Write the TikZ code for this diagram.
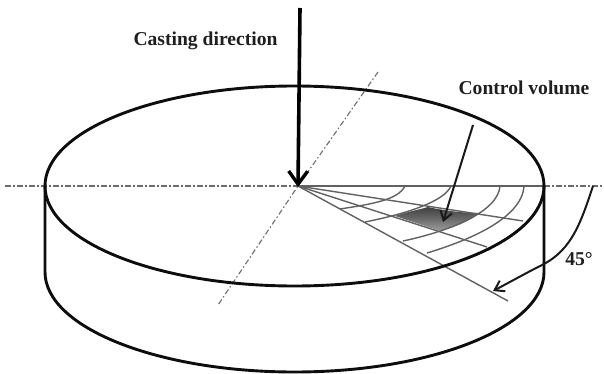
\documentclass[tikz,border=0pt]{standalone}
\usepackage{fontspec}
\setmainfont{Liberation Serif}
\usetikzlibrary{arrows.meta}
\tikzset{
  rim/.style={line width=2.9pt,black!95},
  axis/.style={line width=1.1pt,black!58,dash pattern=on 5.5pt off 2.5pt on 1.5pt off 2.5pt},
  grid/.style={line width=1.4pt,black!62},
  pointer/.style={line width=2pt,black!90,-{Straight Barb[length=9pt,width=12pt,line width=2pt]}},
  label/.style={font=\bfseries\fontsize{19.6}{22}\selectfont,black!88,inner sep=0pt},
}
\begin{document}
\begin{tikzpicture}[x=1pt,y=-1pt]
\useasboundingbox (0,0) rectangle (604,374);
\coordinate (c) at (298,186);
\coordinate (ec) at (294.5,186);
\coordinate (casttop) at (300,8);
\coordinate (cvstart) at (473,125);
\coordinate (cvtip) at (443,222);
\coordinate (angA) at (593,186);
\coordinate (angB) at (493,291);
% shaded cell
\shade[top color=black!75,bottom color=black!38,middle color=black!58]
  (395,216) .. controls (406,212) and (418,210) .. (428,207)
  .. controls (445,211) and (465,213) .. (480,213)
  .. controls (468,222) and (455,227) .. (440,231)
  .. controls (425,226) and (410,221) .. (395,216) -- cycle;
% axes
\draw[axis] (5,186) -- (c);
\draw[axis] (544,186) -- (604,186);
\draw[axis] (378,72) -- (c) -- (218,305);
% radial lines
\draw[grid] (c) -- (544,186);
\draw[grid] (c) -- (523,221);
\draw[grid] (c) -- (487,247);
\draw[grid] (c) -- (508,301);
% arcs
\draw[grid] (405,186) .. controls (398,200) and (372,204) .. (340,209);
\draw[grid] (451,186) .. controls (444,202) and (405,214) .. (365,222);
\draw[grid] (500,186) .. controls (498,212) and (450,231) .. (403,241);
\draw[grid] (524,186) .. controls (522,218) and (470,240) .. (427,253);
% cylinder
\draw[rim] (ec) ellipse [x radius=249.5,y radius=100];
\draw[rim,line cap=round] (45,186) -- (45,272) arc[start angle=180,end angle=360,x radius=249.5,y radius=-100] -- (544,186);
% arrows
\draw[line width=3.6pt,black,-{Straight Barb[length=13pt,width=19pt,line width=3.4pt]},shorten >=-1pt] (casttop) -- (c);
\draw[pointer] (cvstart) -- (cvtip);
\draw[pointer] (angA) .. controls (581,222) and (572,250) .. (542,265) .. controls (528,272) and (510,282) .. (angB);
% labels
\node[label] (cast) at (205.5,40.5) {Casting direction};
\node[label] (vol) at (524,88) {Control volume};
\node[label] (ang) at (579,259) {45°};
\end{tikzpicture}
\end{document}
